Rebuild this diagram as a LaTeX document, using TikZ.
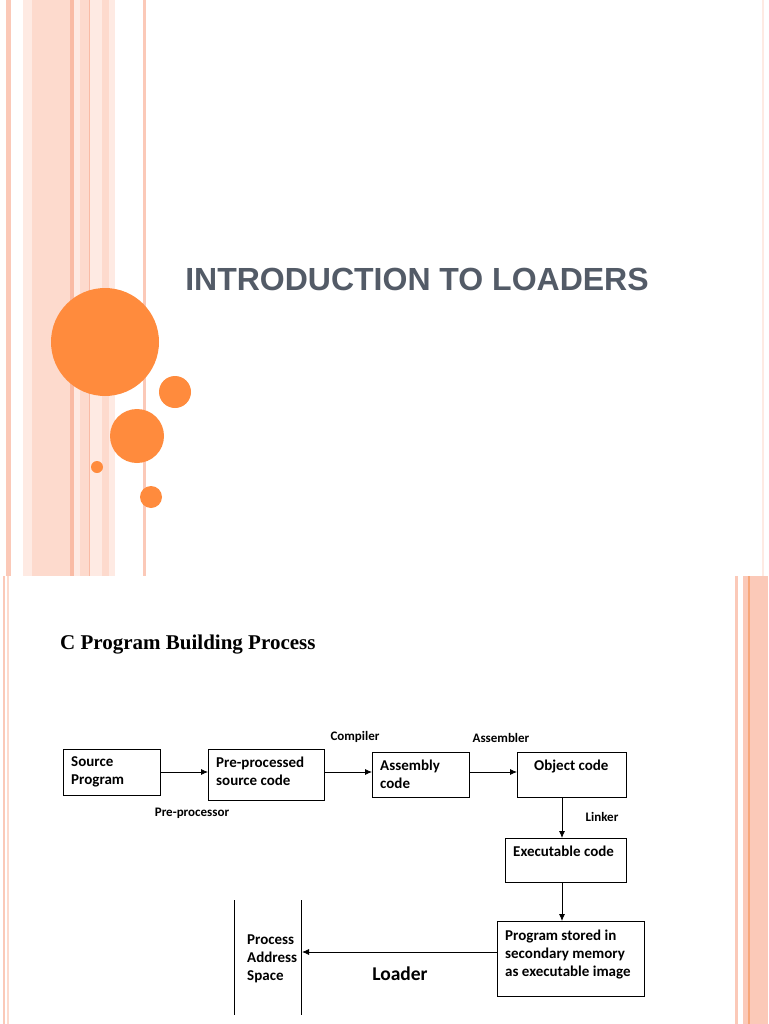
\documentclass[tikz,border=0pt]{standalone}
\usepackage{fontspec}
\setmainfont{Liberation Serif}
\newfontfamily\carlitofont{Carlito}
\newfontfamily\arsfont{Liberation Sans}
\usetikzlibrary{arrows.meta}
\definecolor{pk}{HTML}{FBC9B8}
\definecolor{pkl}{HTML}{FDDACD}
\definecolor{pkvl}{HTML}{FEEAE3}
\definecolor{pkd}{HTML}{F9BBA5}
\definecolor{pko}{HTML}{F7A77A}
\definecolor{org}{HTML}{FF8B3D}
\definecolor{ttl}{HTML}{535B67}
\tikzset{box/.style={draw,line width=0.8pt,anchor=north west,inner sep=0pt},
 lbl/.style={font=\carlitofont\bfseries\fontsize{15}{18}\selectfont,align=left,anchor=north west,inner sep=0pt,yshift=-2.5pt},
 small/.style={font=\carlitofont\bfseries\fontsize{13}{15}\selectfont,inner sep=0pt},
 arr/.style={-{Latex[length=7pt,width=6pt]},line width=0.8pt}}
\begin{document}
\begin{tikzpicture}[x=1pt,y=-1pt]
\useasboundingbox (0,0) rectangle (768,1024);
\fill[white] (0,0) rectangle (768,1024);
% top slide stripes
\fill[pk] (6,0) rectangle (11,576);
\fill[pkvl] (23,0) rectangle (32,576);
\fill[pkl] (32,0) rectangle (70,576);
\fill[pkd] (70,0) rectangle (74,576);
\fill[pkvl] (74,0) rectangle (80,576);
\fill[pkl] (80,0) rectangle (89,576);
\fill[pkd] (89,0) rectangle (90,576);
\fill[pkvl] (90,0) rectangle (102,576);
\fill[pkl] (102,0) rectangle (109,576);
\fill[pkvl] (109,0) rectangle (115,576);
\fill[pk] (143,0) rectangle (146,576);
\fill[pkvl] (762,0) rectangle (764,576);
% bottom slide stripes
\fill[pk] (3,576) rectangle (5,1024);
\fill[pkl] (7,576) rectangle (9,1024);
\fill[pk] (735,576) rectangle (738,1024);
\fill[pk] (743,576) rectangle (748,1024);
\fill[pko] (748,576) rectangle (750,1024);
\fill[pk] (750,576) rectangle (768,1024);
% circles
\fill[org] (105,342) circle (54);
\fill[org] (175,392) circle (16);
\fill[org] (137,436) circle (27);
\fill[org] (97,467) circle (6);
\fill[org] (151,497) circle (11);
\node[font=\arsfont\bfseries\fontsize{32}{36}\selectfont,text=ttl,inner sep=0pt] (title) at (417,279) {INTRODUCTION TO LOADERS};
\node[font=\bfseries\fontsize{21}{24}\selectfont,anchor=west,inner sep=0pt] (head) at (60,645) {C Program Building Process};
% boxes
\node[box,minimum width=97,minimum height=46] (src) at (63,749) {};
\node[lbl] at (71,754) {Source\\Program};
\node[box,minimum width=116,minimum height=51] (pre) at (208,749) {};
\node[lbl] at (216,754) {Pre-processed\\source code};
\node[box,minimum width=97,minimum height=45] (asm) at (372,752) {};
\node[lbl] at (380,757) {Assembly\\code};
\node[box,minimum width=109,minimum height=45] (obj) at (517,752) {};
\node[lbl] at (534,757) {Object code};
\node[box,minimum width=121,minimum height=44] (exe) at (505,838) {};
\node[lbl] at (513,843) {Executable code};
\node[box,minimum width=147,minimum height=75] (prog) at (497,921) {};
\node[lbl] at (505,927) {Program stored in\\secondary memory\\as executable image};
\draw[line width=0.8pt] (234,900) -- (234,1015);
\draw[line width=0.8pt] (301,900) -- (301,1015);
\node[lbl] (pas) at (247,932) {Process\\Address\\Space};
\coordinate (pasR) at (302,952);
% arrows
\draw[arr] (src.east |- 0,772) -- (pre.west |- 0,772);
\draw[arr] (pre.east |- 0,772) -- (asm.west |- 0,772);
\draw[arr] (asm.east |- 0,772) -- (obj.west |- 0,772);
\draw[arr] (obj.south -| 562,0) -- (exe.north -| 562,0);
\draw[arr] (exe.south -| 562,0) -- (prog.north -| 562,0);
\draw[arr] (prog.west |- 0,952) -- (pasR);
% labels
\node[small] (l1) at (192,813) {Pre-processor};
\node[small] (l2) at (355,737) {Compiler};
\node[small] (l3) at (501,738) {Assembler};
\node[small] (l4) at (602,817) {Linker};
\node[font=\carlitofont\bfseries\fontsize{19.5}{22}\selectfont,inner sep=0pt] (l5) at (400,974) {Loader};
\end{tikzpicture}
\end{document}
